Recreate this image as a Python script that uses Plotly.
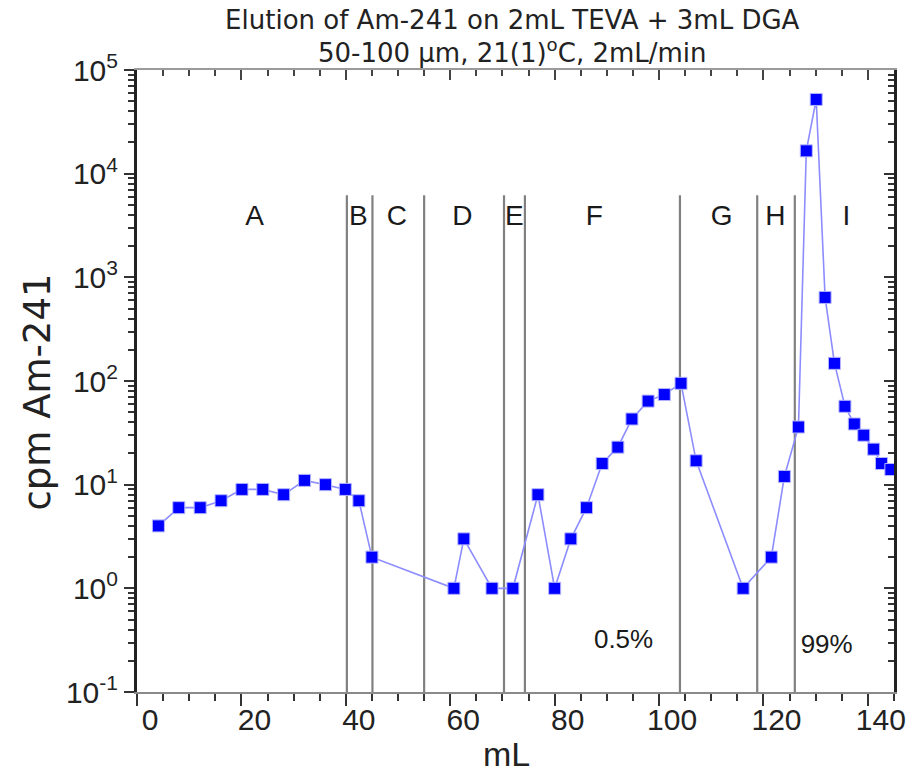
import plotly.graph_objects as go

# ---- data ----
volume_ml = [4.1, 8.0, 12.1, 16.1, 20.1, 24.1, 28.1, 32.1, 36.1, 39.9,
             42.5, 45.0, 60.7, 62.6, 68.0, 72.0, 76.8, 80.0, 83.1, 86.1,
             89.1, 92.1, 94.8, 97.9, 101.0, 104.2, 107.1, 116.1, 121.5, 124.0,
             126.7, 128.2, 130.1, 131.8, 133.6, 135.6, 137.4, 139.2, 141.1, 142.6,
             144.4]
cpm_am241 = [4.0, 6.0, 6.0, 7.0, 9.0, 9.0, 8.0, 11.0, 10.0, 9.0,
             7.0, 2.0, 1.0, 3.0, 1.0, 1.0, 8.0, 1.0, 3.0, 6.0,
             16.0, 23.0, 43.0, 64.0, 74.0, 95.0, 17.0, 1.0, 2.0, 12.0,
             36.0, 16600.0, 52000.0, 640.0, 148.0, 57.0, 38.5, 30.0, 22.0, 16.0,
             14.0]

fraction_bounds = [40.2, 45.1, 55.0, 70.3, 74.3, 104.0, 118.8, 126.0]
fraction_labels = ["A", "B", "C", "D", "E", "F", "G", "H", "I"]
fraction_label_x = [22.5, 42.4, 49.8, 62.3, 72.3, 87.6, 112.0, 122.3, 135.9]
fraction_label_y = 3775

pct_labels = ["0.5%", "99%"]
pct_label_x = [93.2, 132.1]
pct_label_y = [0.305, 0.273]

y_tickvals = [0.1, 1, 10, 100, 1000, 10000, 100000]
y_ticktext = ["10<sup>-1</sup>", "10<sup>0</sup>", "10<sup>1</sup>", "10<sup>2</sup>",
              "10<sup>3</sup>", "10<sup>4</sup>", "10<sup>5</sup>"]

X_RANGE = [0, 145]
Y_RANGE_LOG = [-1, 5]
LINE_BOTTOM = 0.1
LINE_TOP = 6200

ARIAL = "Liberation Sans, Arial, sans-serif"
WIDE = "DejaVu Sans, Liberation Sans, sans-serif"

fig = go.Figure()

# fraction boundary lines
bx, by = [], []
for b in fraction_bounds:
    bx += [b, b, None]
    by += [LINE_BOTTOM, LINE_TOP, None]
fig.add_trace(go.Scatter(x=bx, y=by, mode="lines",
                         line=dict(color="#808080", width=2.2),
                         hoverinfo="skip", showlegend=False, cliponaxis=True))

# data
fig.add_trace(go.Scatter(x=volume_ml, y=cpm_am241, mode="lines+markers",
                         line=dict(color="#8c8cff", width=1.6),
                         marker=dict(symbol="square", size=12, color="#0000ff",
                                     line=dict(color="#b4b4ff", width=1)),
                         showlegend=False))

# fraction letters
fig.add_trace(go.Scatter(x=fraction_label_x, y=[fraction_label_y] * len(fraction_labels),
                         mode="text", text=fraction_labels,
                         textfont=dict(family=ARIAL, size=28, color="#1a1a1a"),
                         textposition="middle center", showlegend=False, hoverinfo="skip"))

# percent labels
fig.add_trace(go.Scatter(x=pct_label_x, y=pct_label_y, mode="text", text=pct_labels,
                         textfont=dict(family=ARIAL, size=26, color="#1a1a1a"),
                         textposition="middle center", showlegend=False, hoverinfo="skip"))

# invisible trace for mirrored axes (top/right with inside ticks)
fig.add_trace(go.Scatter(x=volume_ml, y=cpm_am241, xaxis="x2", yaxis="y2", mode="markers",
                         marker=dict(opacity=0), showlegend=False, hoverinfo="skip"))

fig.update_layout(
    width=918, height=773,
    margin=dict(l=137, r=12, t=70, b=81),
    paper_bgcolor="white", plot_bgcolor="white",
    title=dict(text="Elution of Am-241 on 2mL TEVA + 3mL DGA<br>50-100 µm, 21(1)<sup>o</sup>C, 2mL/min",
               x=0.558, xanchor="center", y=0.963, yanchor="middle", yref="container",
               font=dict(family=WIDE, size=26, color="#222222")),
    xaxis=dict(range=X_RANGE, showgrid=False, zeroline=False,
               showline=True, linecolor="#8a8a8a", linewidth=2,
               ticks="outside", ticklen=12, tickwidth=1.5, tickcolor="#333333",
               tick0=0, dtick=20, ticklabelshift=13, ticklabelstandoff=-12,
               minor=dict(ticks="outside", dtick=5, ticklen=7, tickwidth=1.5, tickcolor="#333333"),
               tickfont=dict(family=ARIAL, size=30, color="#222222")),
    xaxis2=dict(range=X_RANGE, overlaying="x", side="top", anchor="y",
                showgrid=False, zeroline=False, showticklabels=False,
                showline=True, linecolor="#9a9a9a", linewidth=2,
                ticks="inside", ticklen=10, tickwidth=1.5, tickcolor="#444444",
                tick0=0, dtick=20,
                minor=dict(ticks="inside", dtick=5, ticklen=6, tickwidth=1.5, tickcolor="#444444")),
    yaxis=dict(type="log", range=Y_RANGE_LOG, showgrid=False, zeroline=False,
               showline=True, linecolor="#222222", linewidth=3,
               ticks="outside", ticklen=10, tickwidth=1.5, tickcolor="#333333",
               tickvals=y_tickvals, ticktext=y_ticktext,
               minor=dict(ticks="outside", dtick="D1", ticklen=6, tickwidth=1.5, tickcolor="#333333"),
               tickfont=dict(family=ARIAL, size=30, color="#222222")),
    yaxis2=dict(type="log", range=Y_RANGE_LOG, overlaying="y", side="right", anchor="x",
                showgrid=False, zeroline=False, showticklabels=False,
                showline=True, linecolor="#222222", linewidth=3,
                ticks="inside", ticklen=10, tickwidth=1.5, tickcolor="#333333",
                tickvals=y_tickvals,
                minor=dict(ticks="inside", dtick="D1", ticklen=6, tickwidth=1.5, tickcolor="#333333")),
    annotations=[
        dict(text="mL", xref="paper", yref="paper", x=0.488, y=-0.1,
             xanchor="center", yanchor="middle", showarrow=False,
             font=dict(family=ARIAL, size=34, color="#222222")),
        dict(text="cpm Am-241", xref="paper", yref="paper", x=-0.1317, y=0.482,
             xanchor="center", yanchor="middle", textangle=-90, showarrow=False,
             font=dict(family=WIDE, size=37, color="#222222")),
    ],
)

fig.write_html("out.html", config={"displayModeBar": False},
               post_script="document.body.style.margin='0';document.body.style.overflow='hidden';")
